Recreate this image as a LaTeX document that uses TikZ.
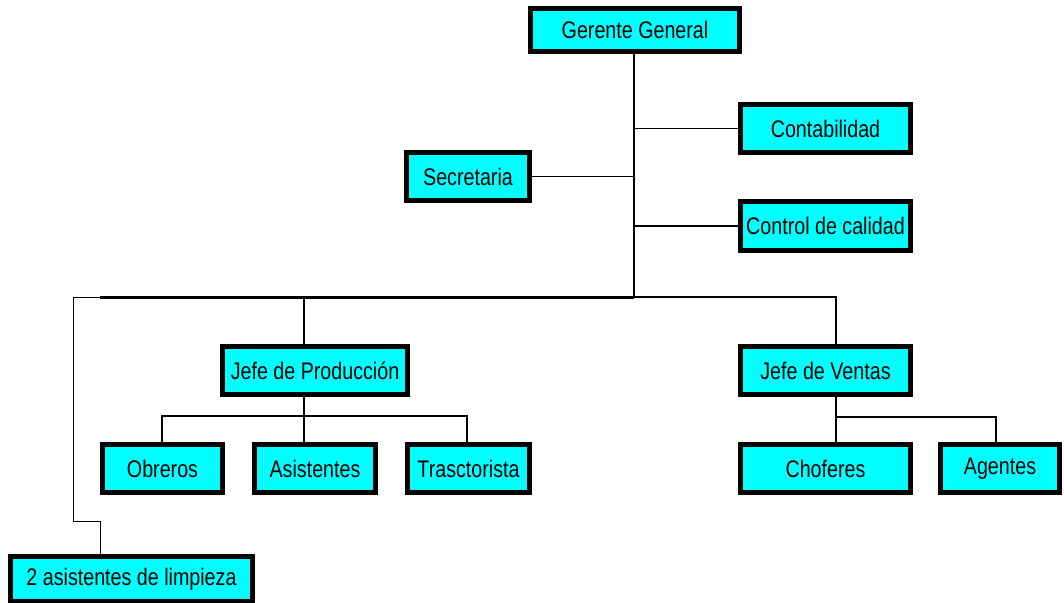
\documentclass[tikz,border=0pt]{standalone}
\usepackage{fontspec}
\setmainfont{Liberation Sans}[FakeStretch=0.82]
\definecolor{boxc}{RGB}{0,255,255}
\tikzset{
  box/.style={draw=black, line width=4.8pt, fill=boxc, inner sep=0pt, align=center,
    font=\fontsize{24}{27}\selectfont},
  conn/.style={draw=black, line width=1.4pt},
  trunk/.style={draw=black, line width=2.4pt},
  bus/.style={draw=black, line width=3pt},
  thin/.style={draw=black, line width=1pt}
}
\begin{document}
\begin{tikzpicture}[x=1pt,y=-1pt]
\useasboundingbox (0,0) rectangle (1064,602);
\coordinate (t) at (634,297);
\coordinate (bl) at (100,297);
\coordinate (ll) at (73,297);
\coordinate (lj) at (100,521);
\coordinate (px) at (304,297);
\coordinate (vx) at (836,297);
\coordinate (pj) at (304,416);
\coordinate (pl) at (162,416);
\coordinate (pr) at (467,416);
\coordinate (vj) at (836,417);
\coordinate (vr) at (996,417);

\node[box, minimum width=209.2pt, minimum height=43.2pt] (gg) at (635,30) {Gerente General};
\node[box, minimum width=170.2pt, minimum height=48.2pt] (cont) at (825.5,128.5) {Contabilidad};
\node[box, minimum width=123.2pt, minimum height=48.2pt] (sec) at (468,176.5) {Secretaria};
\node[box, minimum width=170.2pt, minimum height=49.2pt] (ctrl) at (825.5,226) {Control de calidad};
\node[box, minimum width=185.2pt, minimum height=48.2pt] (jp) at (315,370.5) {Jefe de Producción};
\node[box, minimum width=170.2pt, minimum height=48.2pt] (jv) at (825.5,370.5) {Jefe de Ventas};
\node[box, minimum width=120.2pt, minimum height=48.2pt] (obr) at (162.5,468.5) {Obreros};
\node[box, minimum width=121.2pt, minimum height=48.2pt] (asi) at (315,468.5) {Asistentes};
\node[box, minimum width=122.2pt, minimum height=48.2pt] (tra) at (468.5,468.5) {Trasctorista};
\node[box, minimum width=170.2pt, minimum height=48.2pt] (cho) at (825.5,468.5) {Choferes};
\node[box, minimum width=119.2pt, minimum height=48.2pt] (age) at (1000,468.5) {Agentes};
\node[box, minimum width=242.2pt, minimum height=45.2pt] (lim) at (131.5,579) {2 asistentes de limpieza};

\draw[trunk] (gg.south -| t) -- (t);
\draw[conn] (cont.west) -- (cont.west -| t);
\draw[conn] (sec.east) -- (sec.east -| t);
\draw[conn] (ctrl.west) -- (ctrl.west -| t);
\draw[bus] (t) -- (bl);
\draw[thin] (bl) -- (ll) |- (lj) -- (lj |- lim.north);
\draw[conn] (t) -- (vx) -- (vx |- jv.north);
\draw[conn] (px) -- (px |- jp.north);
\draw[conn] (pj |- jp.south) -- (pj);
\draw[conn] (pl |- obr.north) |- (pr) -- (pr |- tra.north);
\draw[conn] (pj) -- (pj |- asi.north);
\draw[conn] (vj |- jv.south) -- (vj |- cho.north);
\draw[conn] (vj) -| (vr |- age.north);
\end{tikzpicture}
\end{document}
